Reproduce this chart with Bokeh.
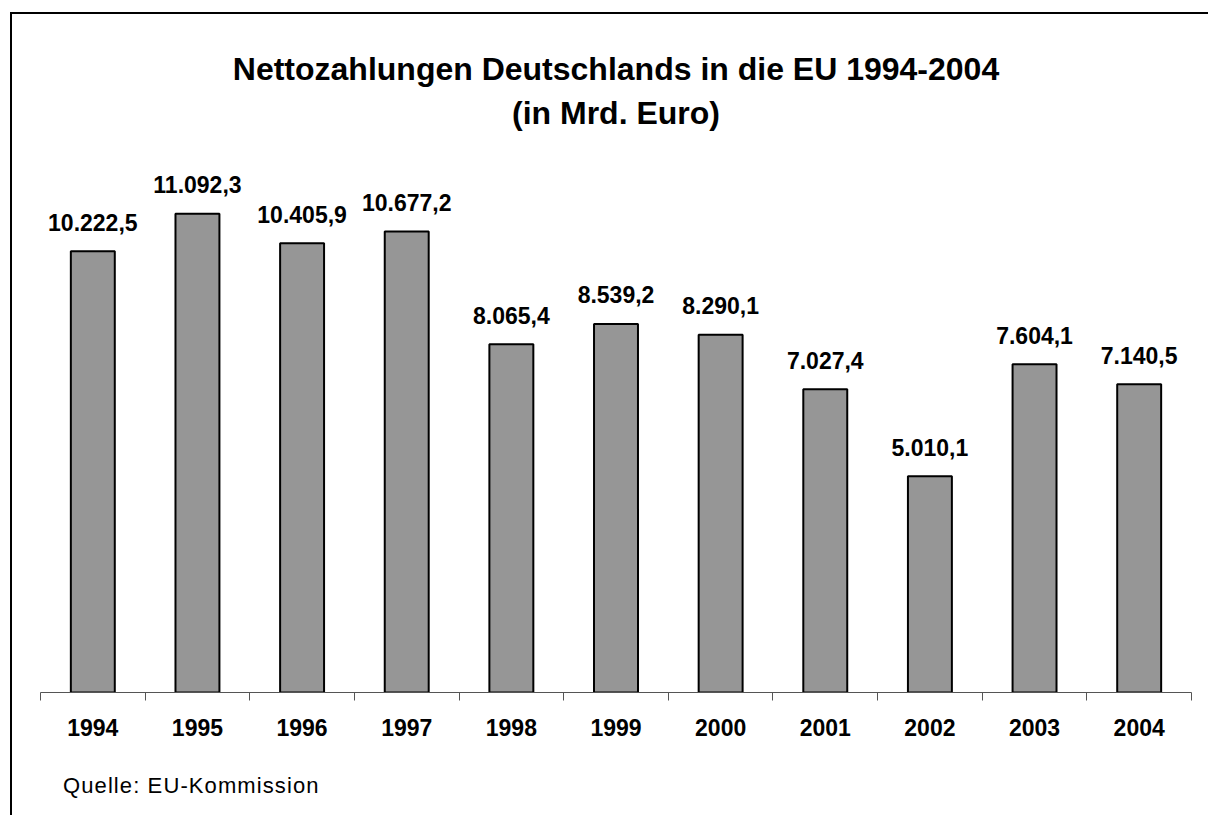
from bokeh.plotting import figure
from bokeh.models import Range1d, FixedTicker, Title, ColumnDataSource, Div
from bokeh.layouts import column
from bokeh.core.properties import value
from bokeh.embed import file_html
from bokeh.resources import INLINE

years = ["1994", "1995", "1996", "1997", "1998", "1999", "2000", "2001", "2002", "2003", "2004"]
payments = [10222.5, 11092.3, 10405.9, 10677.2, 8065.4, 8539.2, 8290.1, 7027.4, 5010.1, 7604.1, 7140.5]
title_line1 = "Nettozahlungen Deutschlands in die EU 1994-2004"
title_line2 = "(in Mrd. Euro)"
source_note = "Quelle: EU-Kommission"


def de_format(v):
    s = f"{v:,.1f}"
    return s.replace(",", "#").replace(".", ",").replace("#", ".")


FONT = "Liberation Sans"
W, H = 1196, 738
BORDER_L, BORDER_R, BORDER_T, BORDER_B = 28, 17, 119, 60
FRAME_H = H - BORDER_T - BORDER_B
Y_END = 12000 * FRAME_H / 518.0

xpos = [i + 0.5 for i in range(len(years))]
src = ColumnDataSource(dict(x=xpos, top=payments, label=[de_format(v) for v in payments]))

p = figure(width=W, height=H, x_range=Range1d(0, len(years)), y_range=Range1d(0, Y_END),
           output_backend="svg", toolbar_location=None, y_axis_location=None,
           min_border_left=BORDER_L, min_border_right=BORDER_R,
           min_border_top=BORDER_T, min_border_bottom=BORDER_B)
p.outline_line_color = None
p.xgrid.visible = False
p.ygrid.visible = False
p.background_fill_color = "white"
p.border_fill_color = "white"

p.vbar(x="x", top="top", bottom=0, width=0.42, source=src,
       fill_color="#969696", line_color="black", line_width=2)
p.text(x="x", y="top", text="label", source=src, text_align="center", text_baseline="alphabetic",
       y_offset=-29, text_font=value(FONT), text_font_size="23px", text_font_style="bold",
       text_color="black")

ax = p.xaxis[0]
ax.ticker = FixedTicker(ticks=xpos, minor_ticks=list(range(len(years) + 1)))
ax.major_label_overrides = {x: y for x, y in zip(xpos, years)}
ax.major_tick_out = 0
ax.major_tick_in = 0
ax.minor_tick_out = 8
ax.minor_tick_in = 0
ax.minor_tick_line_color = "#555555"
ax.axis_line_color = "#555555"
ax.axis_line_width = 1
ax.major_label_standoff = 18
ax.major_label_text_font = FONT
ax.major_label_text_font_size = "23px"
ax.major_label_text_font_style = "bold"
ax.major_label_text_color = "black"

t2 = Title(text=title_line2, align="center", text_font=FONT, text_font_size="32px",
           text_font_style="bold", text_color="black", standoff=6)
t1 = Title(text=title_line1, align="center", text_font=FONT, text_font_size="32px",
           text_font_style="bold", text_color="black", standoff=6)
p.add_layout(t2, "above")
p.add_layout(t1, "above")

note = Div(text=source_note, width=600, height=40,
           styles={"font-family": FONT, "font-size": "22px", "letter-spacing": "1.1px",
                   "color": "black", "padding-left": "46px", "padding-top": "13px",
                   "box-sizing": "content-box"})

layout = column(p, note, spacing=0,
                styles={"margin-left": "10px", "margin-top": "12px",
                        "border-left": "2px solid black", "border-top": "2px solid black",
                        "border-right": "0px none", "border-bottom": "0px none",
                        "outline": "none", "box-shadow": "none",
                        "box-sizing": "content-box", "background-color": "white"})

open("out.html", "w").write(file_html(layout, INLINE))
